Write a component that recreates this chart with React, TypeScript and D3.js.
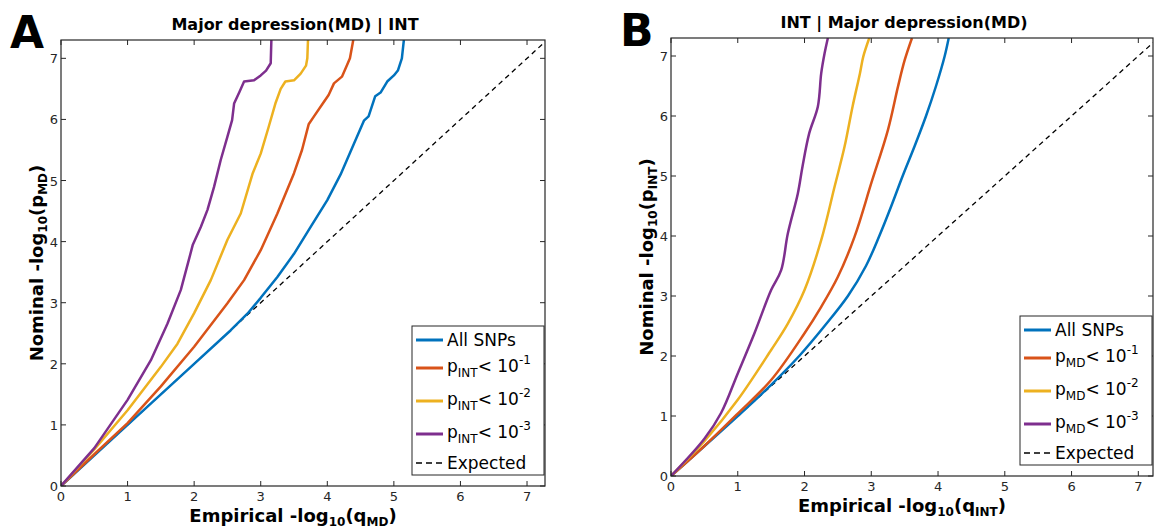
import React from 'react';
import * as d3 from 'd3';

// ---- data (x = empirical -log10 q, y = nominal -log10 p) ----
const ticks = [0, 1, 2, 3, 4, 5, 6, 7];
const seriesColors = ['#0072BD', '#D95319', '#EDB120', '#7E2F8E'];
const thresholds = ['-1', '-2', '-3'];

// Panel A: Major depression(MD) | INT
const aAll: [number, number][] = [
  [0, 0], [1, 1], [2, 2], [2.55, 2.55], [2.8, 2.82], [3.0, 3.08], [3.25, 3.42], [3.5, 3.8],
  [3.75, 4.24], [4.0, 4.68], [4.2, 5.1], [4.4, 5.6], [4.55, 5.98], [4.62, 6.05], [4.72, 6.38],
  [4.8, 6.44], [4.9, 6.62], [5.0, 6.72], [5.06, 6.8], [5.12, 7.0], [5.15, 7.3],
];
const aP1: [number, number][] = [
  [0, 0], [0.5, 0.52], [1.0, 1.03], [1.5, 1.63], [2.0, 2.28], [2.5, 2.99], [2.75, 3.37],
  [3.0, 3.86], [3.25, 4.46], [3.5, 5.12], [3.62, 5.5], [3.72, 5.92], [3.8, 6.05],
  [3.95, 6.29], [4.02, 6.4], [4.1, 6.59], [4.22, 6.7], [4.3, 6.9], [4.34, 7.0], [4.39, 7.3],
];
const aP2: [number, number][] = [
  [0, 0], [0.5, 0.6], [1.0, 1.24], [1.5, 1.95], [1.75, 2.33], [2.0, 2.83], [2.25, 3.37],
  [2.5, 4.03], [2.7, 4.46], [2.88, 5.12], [3.0, 5.44], [3.12, 5.88], [3.22, 6.26],
  [3.3, 6.5], [3.37, 6.62], [3.5, 6.64], [3.6, 6.75], [3.68, 6.88], [3.7, 7.0], [3.71, 7.3],
];
const aP3: [number, number][] = [
  [0, 0], [0.5, 0.62], [1.0, 1.41], [1.35, 2.06], [1.6, 2.66], [1.8, 3.21], [1.92, 3.7],
  [1.98, 3.95], [2.1, 4.24], [2.2, 4.52], [2.3, 4.9], [2.4, 5.34], [2.5, 5.72], [2.57, 5.99],
  [2.6, 6.26], [2.68, 6.45], [2.75, 6.62], [2.9, 6.64], [3.0, 6.72], [3.08, 6.8],
  [3.15, 6.92], [3.16, 7.3],
];

// Panel B: INT | Major depression(MD)
const bAll: [number, number][] = [
  [0, 0], [1, 1], [1.5, 1.52], [1.92, 2.0], [2.3, 2.5], [2.65, 3.0], [2.92, 3.5],
  [3.12, 4.0], [3.3, 4.5], [3.47, 5.0], [3.65, 5.5], [3.82, 6.0], [3.97, 6.5],
  [4.1, 7.0], [4.16, 7.3],
];
const bP1: [number, number][] = [
  [0, 0], [0.5, 0.5], [1.0, 1.04], [1.5, 1.6], [2.0, 2.38], [2.25, 2.82], [2.5, 3.32],
  [2.75, 3.99], [3.0, 4.88], [3.25, 5.77], [3.4, 6.49], [3.5, 6.93], [3.61, 7.3],
];
const bP2: [number, number][] = [
  [0, 0], [0.5, 0.58], [1.0, 1.27], [1.5, 2.1], [1.75, 2.54], [2.0, 3.1], [2.25, 3.93],
  [2.45, 4.82], [2.6, 5.49], [2.72, 6.16], [2.83, 6.71], [2.88, 6.99], [2.97, 7.3],
];
const bP3: [number, number][] = [
  [0, 0], [0.5, 0.62], [0.75, 1.05], [1.0, 1.71], [1.25, 2.38], [1.5, 3.1], [1.65, 3.43],
  [1.75, 4.04], [1.9, 4.71], [1.97, 5.16], [2.07, 5.71], [2.2, 6.16], [2.25, 6.71],
  [2.3, 7.04], [2.35, 7.3],
];

const expected: [number, number][] = [[0, 0], [7.3, 7.3]];

const FONT = 'DejaVu Sans, sans-serif';
const AX = '#262626';

type PanelProps = {
  letter: string;
  title: string;
  series: [number, number][][];
  xSub: string;
  ySub: string;
  condSub: string;
  left: number;
  right: number;
  top: number;
  bottom: number;
  xMax: number;
  id: string;
  smooth: boolean;
};

const Panel = ({ letter, title, series, xSub, ySub, condSub, left, right, top, bottom, xMax, id, smooth }: PanelProps) => {
  const x = d3.scaleLinear().domain([0, xMax]).range([left, right]);
  const y = d3.scaleLinear().domain([0, 7.3]).range([bottom, top]);
  const line = d3.line<[number, number]>().x(d => x(d[0])).y(d => y(d[1]));
  if (smooth) line.curve(d3.curveCatmullRom.alpha(0.5));
  const dash = d3.line<[number, number]>().x(d => x(d[0])).y(d => y(d[1]));
  const cx = (left + right) / 2;
  const cy = (top + bottom) / 2;

  // legend box (southeast)
  const lgR = right - 1;
  const lgL = lgR - 132;
  const lgB = bottom - 11;
  const lgT = lgB - 149;
  const rows = [14, 42, 75, 108, 137];

  return (
    <g>
      <defs>
        <clipPath id={id}>
          <rect x={left} y={top} width={right - left} height={bottom - top} />
        </clipPath>
      </defs>
      <text x={left - 51} y={top + 8} fontFamily={FONT} fontWeight="bold" fontSize={44}>{letter}</text>
      <text x={cx - 8} y={top - 10} textAnchor="middle" fontFamily={FONT} fontWeight="bold" fontSize={16}>{title}</text>

      <g clipPath={`url(#${id})`}>
        <path d={dash(expected) || ''} fill="none" stroke="#000" strokeWidth={1.3} strokeDasharray="5,4" />
        {series.map((s, i) => (
          <path key={i} d={line(s) || ''} fill="none" stroke={seriesColors[i]} strokeWidth={2.5} strokeLinejoin="round" />
        ))}
      </g>

      <rect x={left} y={top} width={right - left} height={bottom - top} fill="none" stroke={AX} strokeWidth={1.2} />
      {ticks.map(t => (
        <g key={t}>
          <line x1={x(t)} x2={x(t)} y1={bottom} y2={bottom - 5} stroke={AX} />
          <line x1={x(t)} x2={x(t)} y1={top} y2={top + 5} stroke={AX} />
          <line x1={left} x2={left + 5} y1={y(t)} y2={y(t)} stroke={AX} />
          <line x1={right} x2={right - 5} y1={y(t)} y2={y(t)} stroke={AX} />
          <text x={x(t)} y={bottom + 15} textAnchor="middle" fontFamily={FONT} fontSize={13} fill={AX}>{t}</text>
          <text x={left - 3} y={y(t) + 5} textAnchor="end" fontFamily={FONT} fontSize={13} fill={AX}>{t}</text>
        </g>
      ))}

      <text x={cx - 10} y={bottom + 36} textAnchor="middle" fontFamily={FONT} fontWeight="bold" fontSize={18}>
        Empirical -log<tspan fontSize={12} dy={4}>10</tspan><tspan dy={-4}>(q</tspan><tspan fontSize={12} dy={4}>{xSub}</tspan><tspan dy={-4}>)</tspan>
      </text>
      <text transform={`translate(${left - 18},${cy}) rotate(-90)`} textAnchor="middle" fontFamily={FONT} fontWeight="bold" fontSize={18}>
        Nominal -log<tspan fontSize={12} dy={4}>10</tspan><tspan dy={-4}>(p</tspan><tspan fontSize={12} dy={4}>{ySub}</tspan><tspan dy={-4}>)</tspan>
      </text>

      <rect x={lgL} y={lgT} width={lgR - lgL} height={lgB - lgT} fill="#fff" stroke={AX} strokeWidth={1} />
      {rows.map((r, i) => {
        const ry = lgT + r;
        const isExp = i === 4;
        return (
          <g key={i}>
            <line x1={lgL + 4} x2={lgL + 31} y1={ry} y2={ry}
              stroke={isExp ? '#000' : seriesColors[i]} strokeWidth={isExp ? 1.3 : 3}
              strokeDasharray={isExp ? '6,4' : undefined} />
            {i === 0 && (
              <text x={lgL + 35} y={ry + 6} fontFamily={FONT} fontSize={17}>All SNPs</text>
            )}
            {i > 0 && i < 4 && (
              <text x={lgL + 35} y={ry + 4} fontFamily={FONT} fontSize={17}>
                p<tspan fontSize={12} dy={5}>{condSub}</tspan><tspan dy={-5}>&lt; 10</tspan><tspan fontSize={12} dy={-8}>{thresholds[i - 1]}</tspan>
              </text>
            )}
            {isExp && (
              <text x={lgL + 35} y={ry + 6} fontFamily={FONT} fontSize={17}>Expected</text>
            )}
          </g>
        );
      })}
    </g>
  );
};

export default function App() {
  return (
    <svg width={1155} height={531} style={{ position: 'absolute', left: 0, top: 0, background: '#fff' }}>
      <Panel id="clipA" letter="A" title="Major depression(MD) | INT" series={[aAll, aP1, aP2, aP3]}
        xSub="MD" ySub="MD" condSub="INT" left={61} right={545} top={40} bottom={486} xMax={7.27} smooth={false} />
      <Panel id="clipB" letter="B" title="INT | Major depression(MD)" series={[bAll, bP1, bP2, bP3]}
        xSub="INT" ySub="INT" condSub="MD" left={671} right={1153} top={38} bottom={476} xMax={7.22} smooth={true} />
    </svg>
  );
}
